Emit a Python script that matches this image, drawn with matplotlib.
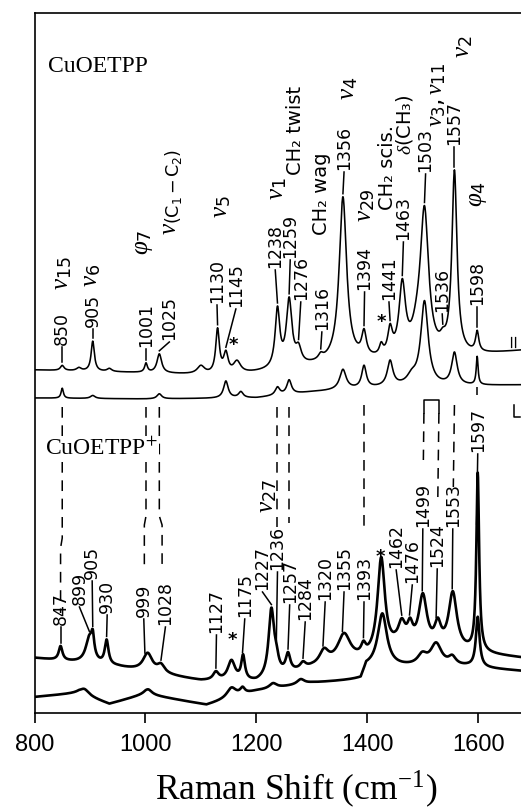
import numpy as np
import matplotlib
matplotlib.use("Agg")
import matplotlib.pyplot as plt

plt.rcParams['mathtext.fontset'] = 'custom'
plt.rcParams['mathtext.rm'] = 'DejaVu Sans'
plt.rcParams['mathtext.it'] = 'Liberation Serif:italic'
plt.rcParams['mathtext.bf'] = 'DejaVu Sans:bold'

wn = np.arange(800, 1677.5, 0.5)

# --- spectra: baseline knots + bands (centre, height, half width) ---
# CuOETPP, upper trace
a_knot_x = [800, 1000, 1150, 1250, 1350, 1500, 1677]
a_knot_y = [343, 340, 337, 343, 350, 352, 362]
a_pos = [850, 880, 905, 935, 1001, 1025, 1100, 1130, 1145, 1165, 1238, 1259, 1276,
         1316, 1356, 1394, 1425, 1441, 1463, 1490, 1503, 1536, 1557, 1598]
a_hgt = [5, 3, 30, 3, 9, 19, 8, 44, 20, 12, 58, 66, 15,
         5, 164, 24, 10, 25, 70, 18, 142, 8, 182, 20]
a_hw = [4, 5, 3.5, 5, 3, 5, 8, 4, 5, 8, 5, 6, 6,
        5, 8, 5, 4, 5, 7, 12, 9, 6, 5.5, 3.5]

# CuOETPP, lower trace
b_knot_x = [800, 1000, 1200, 1300, 1450, 1677]
b_knot_y = [315, 314, 315, 321, 326, 328]
b_pos = [850, 905, 1025, 1145, 1172, 1238, 1259, 1356, 1394, 1441, 1480, 1503, 1557, 1598]
b_hgt = [10, 3, 5, 17, 6, 8, 14, 20, 22, 25, 8, 84, 32, 28]
b_hw = [2.5, 5, 5, 5, 5, 5, 5, 7, 5, 6, 10, 8, 6, 2]

# CuOETPP+, upper trace
c_knot_x = [800, 950, 1100, 1200, 1300, 1400, 1450, 1580, 1620, 1677]
c_knot_y = [55, 46, 32, 30, 44, 52, 62, 60, 58, 55]
c_pos = [847, 899, 905, 930, 1004, 1028, 1127, 1155, 1176, 1227, 1236, 1257, 1284,
         1322, 1358, 1393, 1425, 1462, 1477, 1500, 1527, 1554, 1599]
c_hgt = [14, 25, 18, 24, 18, 8, 8, 20, 24, 67, 12, 18, 6,
         14, 28, 10, 95, 22, 18, 52, 22, 57, 178]
c_hw = [4, 8, 3, 4, 10, 8, 6, 8, 4, 6, 5, 5, 6,
        10, 14, 5, 8, 8, 6, 9, 7, 9, 3]

# CuOETPP+, lower trace
d_knot_x = [800, 880, 935, 1000, 1110, 1200, 1300, 1388, 1398, 1480, 1580, 1677]
d_knot_y = [16, 20, 9, 19, 8, 22, 30, 33, 46, 46, 46, 42]
d_pos = [890, 1005, 1155, 1175, 1230, 1280, 1427, 1499, 1524, 1553, 1599]
d_hgt = [6, 5, 10, 6, 5, 5, 53, 10, 22, 8, 50]
d_hw = [10, 8, 10, 5, 8, 8, 10, 10, 12, 8, 4]


def spectrum(kx, ky, pos, hgt, hw):
    y = np.interp(wn, kx, ky)
    for p, h, w in zip(pos, hgt, hw):
        y = y + h / (1 + ((wn - p) / w) ** 2)
    return y


spec_a = spectrum(a_knot_x, a_knot_y, a_pos, a_hgt, a_hw)
spec_b = spectrum(b_knot_x, b_knot_y, b_pos, b_hgt, b_hw)
spec_c = spectrum(c_knot_x, c_knot_y, c_pos, c_hgt, c_hw)
spec_d = spectrum(d_knot_x, d_knot_y, d_pos, d_hgt, d_hw)

# --- band labels: text, label x, label bottom ---
top_labels = [("850", 850, 368), ("905", 905, 386), ("1001", 1001, 366),
              ("1025", 1043, 373), ("1130", 1129, 410), ("1145", 1163, 406),
              ("1238", 1234, 445), ("1259", 1261, 455), ("1276", 1280, 413),
              ("1316", 1318, 383), ("1356", 1358, 543), ("1394", 1395, 423),
              ("1441", 1439, 413), ("1463", 1465, 473), ("1503", 1505, 541),
              ("1536", 1535, 401), ("1557", 1557, 568), ("1598", 1598, 408)]
bot_labels = [("847", 847, 88), ("899", 881, 108), ("905", 904, 134),
              ("930", 931, 100), ("999", 997, 96), ("1028", 1036, 88),
              ("1127", 1128, 80), ("1175", 1179, 96), ("1227", 1211, 123),
              ("1236", 1238, 143), ("1257", 1260, 110), ("1284", 1288, 93),
              ("1320", 1324, 113), ("1355", 1358, 123), ("1393", 1394, 113),
              ("1462", 1452, 145), ("1476", 1481, 130), ("1499", 1500, 186),
              ("1524", 1526, 146), ("1553", 1554, 186), ("1597", 1599, 261)]

assign_labels = [(r'$\nu_{15}$', 850, 423, 18), (r'$\nu_{6}$', 902, 426, 18),
                 (r'$\varphi_{7}$', 996, 458, 18), (r'$\nu_{(\mathrm{C_1-C_2})}$', 1050, 478, 18),
                 (r'$\nu_{5}$', 1136, 495, 18), (r'$\nu_{1}$', 1237, 513, 18),
                 (r'$\nu_{4}$', 1365, 613, 18), (r'$\nu_{29}$', 1396, 491, 18),
                 (r'$\nu_{3}, \nu_{11}$', 1523, 586, 17), (r'$\nu_{2}$', 1573, 655, 18),
                 (r'$\varphi_{4}$', 1598, 506, 18), (r'$\nu_{27}$', 1219, 200, 18)]
word_labels = [('CH\u2082 twist', 1271, 538), ('CH\u2082 wag', 1318, 478),
               ('CH\u2082 scis.', 1437, 503), ('$\\delta$(CH\u2083)', 1467, 558)]

# dashed correlation lines (x, y) between the two species
corr_lines = [([850, 850, 847, 847], [306, 175, 165, 100]),
              ([1001, 1001, 998, 998], [306, 197, 188, 146]),
              ([1025, 1025, 1030, 1030], [306, 197, 188, 146]),
              ([1238, 1238], [306, 186]),
              ([1259, 1259], [306, 190]),
              ([1394, 1394], [308, 182]),
              ([1502, 1501], [300, 253]),
              ([1529, 1527], [300, 213]),
              ([1557, 1555], [308, 226]),
              ([1598, 1598], [326, 318])]

fig = plt.figure(figsize=(5.21, 8.10), dpi=100)
ax = fig.add_axes([34.5 / 521, 97 / 810, 1 - 34.5 / 521, 700 / 810])
ax.set_xlim(800, 1677)
ax.set_ylim(0, 700)

for s, lw in [(spec_a, 1.15), (spec_b, 1.15), (spec_c, 1.9), (spec_d, 1.9)]:
    ax.plot(wn, s, color='black', lw=lw)

for xs, ys in corr_lines:
    ax.plot(xs, ys, color='black', lw=1.1, dashes=(7, 5))
# bracket joining 1503 / 1536
ax.plot([1502, 1502, 1529, 1529], [300, 313, 313, 300], color='black', lw=1.1)

num_font = dict(family='DejaVu Sans', fontsize=12.5, rotation=90, ha='center', va='bottom')
for labels, spec in [(top_labels, spec_a), (bot_labels, spec_c)]:
    for txt, lx, ly in labels:
        band = float(txt)
        py = np.interp(band, wn, spec) + 3
        ax.plot([band, lx], [py, ly - 2], color='black', lw=1.1)
        ax.text(lx, ly, txt, **num_font)

for txt, lx, ly, fs in assign_labels:
    ax.text(lx, ly, txt, fontsize=fs, rotation=90, ha='center', va='bottom')
for txt, lx, ly in word_labels:
    ax.text(lx, ly, txt, family='DejaVu Sans', fontsize=14, rotation=90,
            ha='center', va='bottom')

for sx, sy in [(1158, 368), (1425, 391), (1156, 73), (1424, 156)]:
    ax.text(sx, sy, '*', fontsize=13, ha='center', va='center', fontweight='bold')

ax.text(1662, 373, '=', fontsize=13, rotation=90, ha='center', va='center')
ax.plot([1664, 1664, 1675], [308, 296, 296], color='black', lw=1.1, clip_on=False)

ax.text(824, 641, 'CuOETPP', family='Liberation Serif', fontsize=17, va='baseline')
ax.text(819, 258, r'CuOETPP$^{+}$', family='Liberation Serif', fontsize=17,
        va='baseline', math_fontfamily='stix',
        bbox=dict(facecolor='white', edgecolor='none', pad=1))

ax.spines['right'].set_visible(False)
for sp in ['left', 'top', 'bottom']:
    ax.spines[sp].set_linewidth(1.2)
ax.set_yticks([])
ax.set_xticks([800, 1000, 1200, 1400, 1600])
ax.tick_params(axis='x', direction='out', length=7, width=1.2, pad=8)
for lab in ax.get_xticklabels():
    lab.set_fontfamily('Liberation Sans')
    lab.set_fontsize(17)
ax.set_xlabel(r'Raman Shift (cm$^{\mathregular{-1}}$)', family='Liberation Serif',
              fontsize=25.5, math_fontfamily='stix')
ax.xaxis.set_label_coords(0.5375, -0.08)

fig.savefig('out.png', dpi=100)
